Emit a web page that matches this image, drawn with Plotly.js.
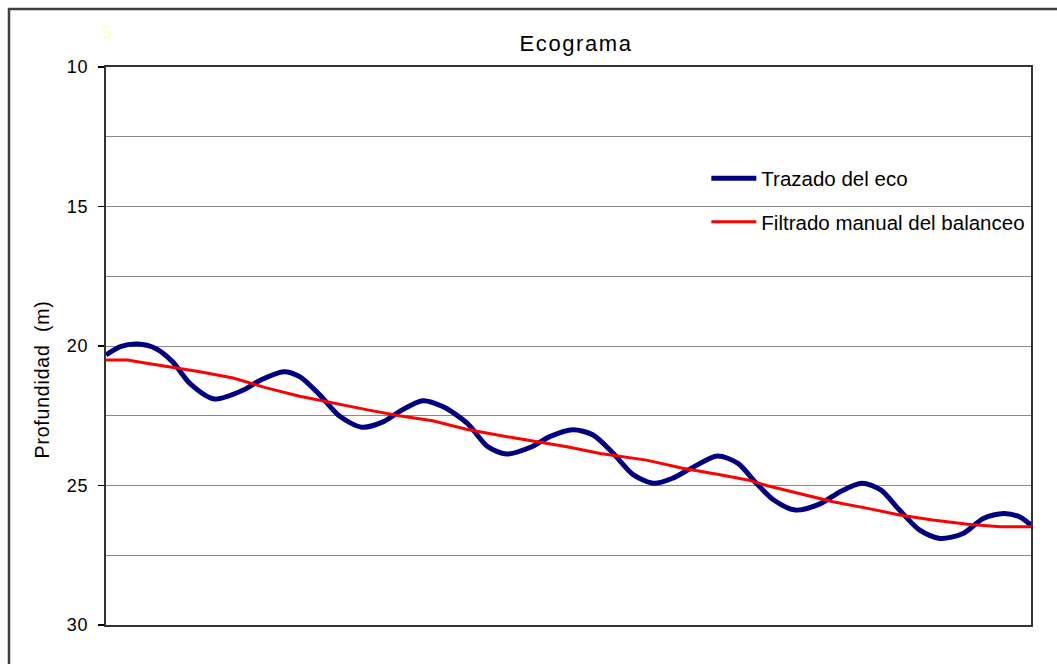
<!DOCTYPE html>
<html>
<head>
<meta charset="utf-8">
<script src="https://cdn.plot.ly/plotly-3.0.1.min.js"></script>
<style>
html, body { margin: 0; padding: 0; background: #fff; }
#chart { width: 1057px; height: 664px; }
#chart svg .gtitle { letter-spacing: 1.6px; }
#chart svg .ytick text { letter-spacing: 0.8px; }
#chart svg .annotation-text { letter-spacing: 0.8px; }
</style>
</head>
<body>
<div id="chart"></div>
<script>
// Trazado del eco (blue) — sample position vs depth (m)
const blueX = [0, 1.0, 2.2, 3.4, 4.6, 5.8, 7.5, 9.5, 10.7, 12.3, 13.4, 14.8, 16.2, 17.7, 19.2, 20.3, 21.9, 23.3, 25.0, 26.4, 27.7, 29.5, 30.7, 32.3, 33.7, 35.1, 36.5, 37.9, 39.2, 40.6, 42.3, 43.7, 45.0, 46.2, 47.7, 49.4, 50.8, 52.3, 53.6, 54.9, 56.3, 57.7, 59.3, 60.7, 62.1, 63.2, 64.0];
const blueY = [20.32, 20.02, 19.93, 20.08, 20.56, 21.34, 21.9, 21.58, 21.22, 20.92, 21.1, 21.76, 22.53, 22.91, 22.71, 22.35, 21.96, 22.17, 22.77, 23.6, 23.87, 23.6, 23.25, 23.0, 23.19, 23.85, 24.62, 24.92, 24.74, 24.35, 23.94, 24.2, 24.92, 25.52, 25.88, 25.66, 25.22, 24.92, 25.16, 25.88, 26.6, 26.9, 26.72, 26.18, 26.0, 26.12, 26.42];

// Filtrado manual del balanceo (red)
const redX = [0, 1.5, 2.6, 4.2, 6.5, 8.8, 11.1, 13.4, 15.7, 18.1, 20.3, 22.6, 25.0, 28.4, 31.9, 34.2, 37.4, 39.9, 42.3, 44.4, 45.7, 48.0, 50.3, 52.7, 54.9, 57.2, 59.6, 61.9, 64.0];
const redY = [20.5, 20.5, 20.6, 20.74, 20.92, 21.15, 21.5, 21.8, 22.05, 22.29, 22.5, 22.68, 22.99, 23.31, 23.61, 23.85, 24.09, 24.38, 24.6, 24.8, 25.0, 25.3, 25.58, 25.82, 26.06, 26.24, 26.39, 26.48, 26.48];

const seriesNames = ['Trazado del eco', 'Filtrado manual del balanceo'];
const yTickVals = [10, 15, 20, 25, 30];
const yTickText = ['10', '15', '20', '25', '30'];

const FONT = 'Arial, "Liberation Sans", sans-serif';

const traces = [
  {
    x: blueX, y: blueY, name: seriesNames[0], type: 'scatter', mode: 'lines',
    line: { color: '#000080', width: 5, shape: 'spline', smoothing: 0.8 },
    legendgroup: 'a'
  },
  {
    x: redX, y: redY, name: seriesNames[1], type: 'scatter', mode: 'lines',
    line: { color: '#ff0000', width: 3 },
    legendgroup: 'b'
  }
];

const layout = {
  width: 1057, height: 664,
  margin: { l: 106, r: 26, t: 67, b: 39, pad: 0 },
  paper_bgcolor: '#ffffff', plot_bgcolor: '#ffffff',
  font: { family: FONT, size: 18, color: '#000' },
  title: {
    text: 'Ecograma', font: { family: FONT, size: 22, color: '#000' },
    xref: 'container', yref: 'container', x: 0.545, y: 0.935,
    xanchor: 'center', yanchor: 'middle'
  },
  showlegend: true,
  legend: {
    x: 0.649, y: 0.761, xanchor: 'left', yanchor: 'middle',
    bgcolor: 'rgba(0,0,0,0)', borderwidth: 0,
    traceorder: 'grouped', tracegroupgap: 14,
    font: { family: FONT, size: 20.5, color: '#000' },
    itemwidth: 45
  },
  xaxis: {
    range: [0, 64], showgrid: false, zeroline: false,
    showticklabels: false, ticks: '',
    showline: true, mirror: true, linecolor: '#333', linewidth: 2
  },
  yaxis: {
    range: [30, 10], autorange: false,
    tickvals: yTickVals, ticktext: yTickText,
    ticks: 'outside', ticklen: 6, tickwidth: 1.5, tickcolor: '#000',
    ticklabelstandoff: 6,
    tickfont: { family: FONT, size: 18, color: '#000' },
    showgrid: true, gridcolor: '#888', gridwidth: 1,
    minor: { dtick: 2.5, tick0: 10, showgrid: true, gridcolor: '#888', gridwidth: 1, ticks: '' },
    zeroline: false,
    showline: true, mirror: true, linecolor: '#333', linewidth: 2
  },
  shapes: [
    { type: 'rect', xref: 'paper', yref: 'paper',
      x0: (9 - 106) / 925, x1: 1.2, y0: -0.2, y1: 1 + (67 - 9) / 558,
      line: { color: '#404040', width: 2.5 }, fillcolor: 'rgba(0,0,0,0)', layer: 'above' },
    { type: 'rect', xref: 'paper', yref: 'y', layer: 'between',
      x0: (757 - 106) / 925, x1: 1, y0: 13, y1: 17,
      line: { width: 0 }, fillcolor: '#ffffff' }
  ],
  annotations: [
    { text: 'Profundidad  (m)', xref: 'paper', yref: 'paper',
      x: (42 - 106) / 925, y: 1 - (380 - 67) / 558, xanchor: 'center', yanchor: 'middle',
      textangle: -90, showarrow: false, font: { family: FONT, size: 19.5, color: '#000' } },
    { text: '5', xref: 'paper', yref: 'paper',
      x: (108 - 106) / 925, y: 1 + (67 - 33) / 558, xanchor: 'center', yanchor: 'middle',
      showarrow: false, font: { family: FONT, size: 18, color: '#ffffc4' } }
  ]
};

Plotly.newPlot('chart', traces, layout, { displayModeBar: false, staticPlot: true });
</script>
</body>
</html>
